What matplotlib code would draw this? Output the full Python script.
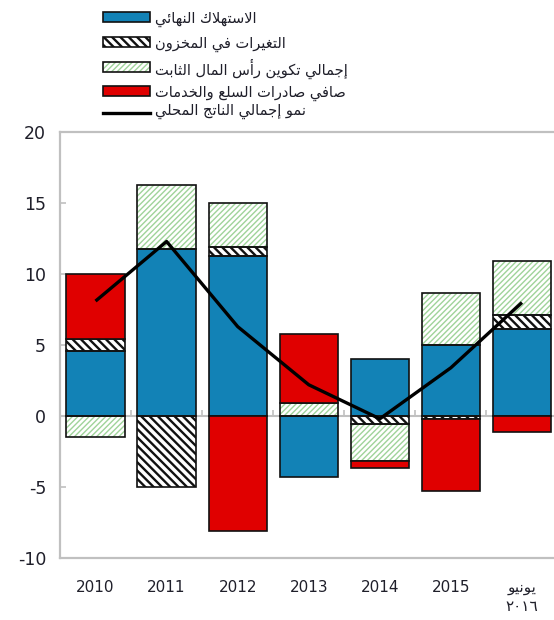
import matplotlib
matplotlib.use("Agg")
import matplotlib.pyplot as plt
from matplotlib.patches import Rectangle
from matplotlib.lines import Line2D
import numpy as np

# ---------------- data ----------------
categories = ["2010", "2011", "2012", "2013", "2014", "2015", "يونيو\n٢٠١٦"]
consumption = [4.6, 11.8, 11.3, -4.3, 4.0, 5.0, 6.1]
inventory = [0.8, -5.0, 0.6, 0.0, -0.6, -0.2, 1.0]
gfcf = [-1.5, 4.5, 3.1, 0.9, -2.6, 3.7, 3.8]
net_exports = [4.6, 0.0, -8.1, 4.9, -0.5, -5.1, -1.1]
gdp_growth = [8.1, 12.3, 6.3, 2.2, -0.2, 3.4, 8.0]

series_labels = [
    "الاستهلاك النهائي",
    "التغيرات في المخزون",
    "إجمالي تكوين رأس المال الثابت",
    "صافي صادرات السلع والخدمات",
    "نمو إجمالي الناتج المحلي",
]
y_ticks = [-10, -5, 0, 5, 10, 15, 20]

# ---------------- minimal Arabic shaping (contextual forms + RTL) ----------------
AR_FORMS = {
    'ء': (0xFE80, None, None, None),
    'آ': (0xFE81, 0xFE82, None, None),
    'أ': (0xFE83, 0xFE84, None, None),
    'ؤ': (0xFE85, 0xFE86, None, None),
    'إ': (0xFE87, 0xFE88, None, None),
    'ئ': (0xFE89, 0xFE8A, 0xFE8B, 0xFE8C),
    'ا': (0xFE8D, 0xFE8E, None, None),
    'ب': (0xFE8F, 0xFE90, 0xFE91, 0xFE92),
    'ة': (0xFE93, 0xFE94, None, None),
    'ت': (0xFE95, 0xFE96, 0xFE97, 0xFE98),
    'ث': (0xFE99, 0xFE9A, 0xFE9B, 0xFE9C),
    'ج': (0xFE9D, 0xFE9E, 0xFE9F, 0xFEA0),
    'ح': (0xFEA1, 0xFEA2, 0xFEA3, 0xFEA4),
    'خ': (0xFEA5, 0xFEA6, 0xFEA7, 0xFEA8),
    'د': (0xFEA9, 0xFEAA, None, None),
    'ذ': (0xFEAB, 0xFEAC, None, None),
    'ر': (0xFEAD, 0xFEAE, None, None),
    'ز': (0xFEAF, 0xFEB0, None, None),
    'س': (0xFEB1, 0xFEB2, 0xFEB3, 0xFEB4),
    'ش': (0xFEB5, 0xFEB6, 0xFEB7, 0xFEB8),
    'ص': (0xFEB9, 0xFEBA, 0xFEBB, 0xFEBC),
    'ض': (0xFEBD, 0xFEBE, 0xFEBF, 0xFEC0),
    'ط': (0xFEC1, 0xFEC2, 0xFEC3, 0xFEC4),
    'ظ': (0xFEC5, 0xFEC6, 0xFEC7, 0xFEC8),
    'ع': (0xFEC9, 0xFECA, 0xFECB, 0xFECC),
    'غ': (0xFECD, 0xFECE, 0xFECF, 0xFED0),
    'ف': (0xFED1, 0xFED2, 0xFED3, 0xFED4),
    'ق': (0xFED5, 0xFED6, 0xFED7, 0xFED8),
    'ك': (0xFED9, 0xFEDA, 0xFEDB, 0xFEDC),
    'ل': (0xFEDD, 0xFEDE, 0xFEDF, 0xFEE0),
    'م': (0xFEE1, 0xFEE2, 0xFEE3, 0xFEE4),
    'ن': (0xFEE5, 0xFEE6, 0xFEE7, 0xFEE8),
    'ه': (0xFEE9, 0xFEEA, 0xFEEB, 0xFEEC),
    'و': (0xFEED, 0xFEEE, None, None),
    'ى': (0xFEEF, 0xFEF0, None, None),
    'ي': (0xFEF1, 0xFEF2, 0xFEF3, 0xFEF4),
}
LAM_ALEF = {'آ': (0xFEF5, 0xFEF6), 'أ': (0xFEF7, 0xFEF8),
            'إ': (0xFEF9, 0xFEFA), 'ا': (0xFEFB, 0xFEFC)}


def _shape_line(text):
    toks = []
    i = 0
    while i < len(text):
        c = text[i]
        if c == 'ل' and i + 1 < len(text) and text[i + 1] in LAM_ALEF:
            toks.append(('LA', text[i + 1]))
            i += 2
        else:
            toks.append(c)
            i += 1

    def is_ar(t):
        return isinstance(t, tuple) or t in AR_FORMS

    def dual(t):
        return (not isinstance(t, tuple)) and t in AR_FORMS and AR_FORMS[t][2] is not None

    out = []
    for k, t in enumerate(toks):
        prev = toks[k - 1] if k > 0 else None
        nxt = toks[k + 1] if k + 1 < len(toks) else None
        if isinstance(t, tuple):
            jp = prev is not None and dual(prev)
            out.append(chr(LAM_ALEF[t[1]][1 if jp else 0]))
            continue
        if t not in AR_FORMS:
            out.append(t)
            continue
        f = AR_FORMS[t]
        if f[1] is None:
            out.append(chr(f[0]))
            continue
        jp = prev is not None and dual(prev)
        jn = nxt is not None and dual(t) and is_ar(nxt)
        if jp and jn:
            cp = f[3]
        elif jp:
            cp = f[1]
        elif jn:
            cp = f[2]
        else:
            cp = f[0]
        out.append(chr(cp))
    s = ''.join(out)
    if any(is_ar(t) for t in toks):
        s = s[::-1]
    return s


def ar(text):
    return '\n'.join(_shape_line(l) for l in text.split('\n'))


# ---------------- style ----------------
plt.rcParams['font.family'] = ['DejaVu Sans']
BLUE = '#1282b6'
RED = '#e00000'
GREEN_H = '#9fd39a'
EDGE = '#111111'
GRAY = '#c0c0c0'
TXT = '#1f1f2a'
EDGE_LW = 1.2
W, H = 554, 620

fig = plt.figure(figsize=(W / 100, H / 100), dpi=100)
ax = fig.add_axes([60 / W, 1 - 557.8 / H, (557.5 - 60) / W, (557.8 - 132.3) / H])

x = np.arange(len(categories))
width = 0.82

series = [
    dict(vals=consumption, fc=BLUE, hatch=None),
    dict(vals=inventory, fc='white', hatch='\\\\\\\\', hc='#111111', hlw=1.7),
    dict(vals=gfcf, fc='white', hatch='//////', hc=GREEN_H, hlw=1.0),
    dict(vals=net_exports, fc=RED, hatch=None),
]

pos_base = np.zeros(len(x))
neg_base = np.zeros(len(x))
for s in series:
    v = np.array(s['vals'], dtype=float)
    bottoms = np.where(v >= 0, pos_base, neg_base)
    mask = v != 0
    if s['hatch']:
        with plt.rc_context({'hatch.linewidth': s['hlw']}):
            ax.bar(x[mask], v[mask], width, bottom=bottoms[mask], color='white',
                   hatch=s['hatch'], edgecolor=s['hc'], linewidth=0, zorder=2)
        ax.bar(x[mask], v[mask], width, bottom=bottoms[mask], fill=False,
               edgecolor=EDGE, linewidth=EDGE_LW, zorder=3)
    else:
        ax.bar(x[mask], v[mask], width, bottom=bottoms[mask], color=s['fc'],
               edgecolor=EDGE, linewidth=EDGE_LW, zorder=3)
    pos_base = pos_base + np.where(v > 0, v, 0)
    neg_base = neg_base + np.where(v < 0, v, 0)

ax.plot(x, gdp_growth, color='black', lw=2.4, zorder=5, solid_joinstyle='round',
        solid_capstyle='butt')

# zero line and small boundary ticks on it
ax.axhline(0, color=GRAY, lw=1.5, zorder=1)
ax.vlines(x[:-1] + 0.5, 0, 0.42, color=GRAY, lw=1.2, zorder=1)

ax.set_xlim(-0.5, len(x) - 0.5)
ax.set_ylim(-10, 20)
ax.set_yticks(y_ticks)
ax.set_yticklabels([str(t) for t in y_ticks])
ax.set_xticks(x)
ax.set_xticklabels([ar(c) for c in categories])

for side in ['left', 'top', 'bottom']:
    ax.spines[side].set_color(GRAY)
    ax.spines[side].set_linewidth(1.6)
ax.spines['right'].set_visible(False)

ax.tick_params(axis='y', direction='in', length=4, width=1.2, color=GRAY,
               labelsize=12.5, labelcolor=TXT, pad=10)
ax.tick_params(axis='x', length=0, labelsize=11, labelcolor=TXT, pad=16)
for lab in ax.get_xticklabels():
    lab.set_linespacing(1.3)

# ---------------- legend (manual, figure pixel coords) ----------------
def fx(px):
    return px / W


def fy(py):
    return 1 - py / H


row_y = [17, 42, 67, 91, 109]
px0, pw, ph = 103, 47, 10
styles = [
    dict(kind='solid', fc=BLUE),
    dict(kind='hatch', hatch='\\\\\\\\', hc='#111111', hlw=1.7),
    dict(kind='hatch', hatch='//////', hc=GREEN_H, hlw=1.0),
    dict(kind='solid', fc=RED),
    dict(kind='line'),
]
for yc, st, lab in zip(row_y, styles, series_labels):
    if st['kind'] == 'line':
        fig.add_artist(Line2D([fx(px0), fx(px0 + pw)], [fy(113), fy(113)],
                              transform=fig.transFigure, color='black', lw=2.4))
    else:
        rx, ry = fx(px0), fy(yc + ph / 2)
        rw, rh = pw / W, ph / H
        if st['kind'] == 'hatch':
            with plt.rc_context({'hatch.linewidth': st['hlw']}):
                fig.add_artist(Rectangle((rx, ry), rw, rh, transform=fig.transFigure,
                                         facecolor='white', edgecolor=st['hc'],
                                         hatch=st['hatch'], linewidth=0))
            fig.add_artist(Rectangle((rx, ry), rw, rh, transform=fig.transFigure,
                                     fill=False, edgecolor=EDGE, linewidth=EDGE_LW))
        else:
            fig.add_artist(Rectangle((rx, ry), rw, rh, transform=fig.transFigure,
                                     facecolor=st['fc'], edgecolor=EDGE,
                                     linewidth=EDGE_LW))
    fig.text(fx(155), fy(yc), ar(lab), ha='left', va='center_baseline',
             fontsize=10.5, color=TXT)

fig.savefig('out.png', dpi=100)
